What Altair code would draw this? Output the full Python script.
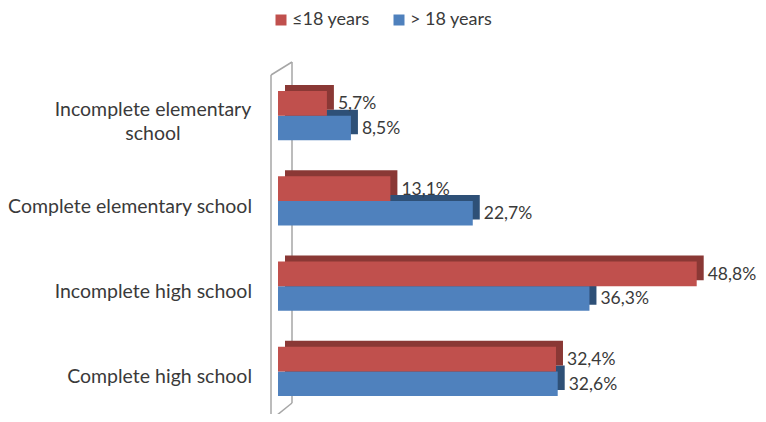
import altair as alt
import pandas as pd

categories = ["Incomplete elementary school", "Complete elementary school",
              "Incomplete high school", "Complete high school"]
series = ["≤18 years", "> 18 years"]
under18 = [5.7, 13.1, 48.8, 32.4]
over18 = [8.5, 22.7, 36.3, 32.6]
front_colors = ["#C0504D", "#4F81BD"]
dark_colors = ["#8A3835", "#2E5077"]

def table(vals, s):
    return pd.DataFrame({
        "category": categories,
        "series": [s] * len(categories),
        "value": vals,
        "label": [f"{v:.1f}".replace(".", ",") + "%" for v in vals],
    })

df_u = table(under18, series[0])
df_o = table(over18, series[1])

cat_rows = []
for c in categories:
    if c == "Incomplete elementary school":
        cat_rows.append({"category": c, "lines": ["Incomplete elementary", "school"], "wrap": 1})
    else:
        cat_rows.append({"category": c, "lines": [c], "wrap": 0})
cat_df = alt.Data(values=cat_rows)

W, H = 429, 341
BAR = 24.7
DX, DY = 7, 6
FONT = "Lato"
TXT = "#3A3A3A"

yscale = alt.Scale(domain=categories, paddingInner=0, paddingOuter=0)
yenc = alt.Y("category:N", scale=yscale, axis=None)
xscale = alt.Scale(domain=[0, 50])
xenc = alt.X("value:Q", scale=xscale, axis=None)

one = pd.DataFrame({"a": [0]})
wall_color = "#A6A6A6"
wall = alt.layer(
    alt.Chart(one).mark_rule(color=wall_color, strokeWidth=1.5).encode(
        x=alt.value(-7), y=alt.value(2), y2=alt.value(H)),
    alt.Chart(one).mark_rule(color=wall_color, strokeWidth=1.5).encode(
        x=alt.value(14), y=alt.value(-11), y2=alt.value(330)),
    alt.Chart(one).mark_rule(color=wall_color, strokeWidth=1.5).encode(
        x=alt.value(-7), x2=alt.value(14), y=alt.value(2), y2=alt.value(-11)),
    alt.Chart(one).mark_rule(color=wall_color, strokeWidth=1.5).encode(
        x=alt.value(14), x2=alt.value(-7), y=alt.value(330), y2=alt.value(347)),
)

def bars(d, off, dark):
    back = alt.Chart(d).mark_bar(height=BAR, yOffset=off - DY, xOffset=DX, x2Offset=DX,
                                 color=dark).encode(x=xenc, y=yenc)
    front = alt.Chart(d).mark_bar(height=BAR, yOffset=off).encode(
        x=xenc, y=yenc,
        color=alt.Color("series:N", scale=alt.Scale(domain=series, range=front_colors),
                        legend=alt.Legend(title=None, orient="none", direction="horizontal",
                                          legendX=-6, legendY=-62, symbolType="square",
                                          symbolSize=121, symbolStrokeWidth=0,
                                          labelFont=FONT, labelFontSize=18, labelColor=TXT,
                                          labelOffset=2, columnPadding=20)))
    txt = alt.Chart(d).mark_text(align="left", baseline="middle", dx=11, yOffset=off + 1,
                                 font=FONT, fontSize=17.5, color=TXT).encode(
        x=alt.X("value:Q", scale=xscale), y=yenc, text="label:N")
    return back, front, txt

bu, fu, tu = bars(df_u, -BAR / 2, dark_colors[0])
bo, fo, to = bars(df_o, BAR / 2, dark_colors[1])

cat_single = alt.Chart(cat_df).transform_filter("datum.wrap == 0").mark_text(
    align="right", baseline="middle", dy=6, font=FONT, fontSize=19.5, color=TXT).encode(
    x=alt.value(-26), y=yenc, text="lines:N")

cat_wrap = alt.Chart(cat_df).transform_filter("datum.wrap == 1").mark_text(
    align="center", baseline="middle", dy=-6, lineHeight=24, font=FONT, fontSize=19.5, color=TXT).encode(
    x=alt.value(-125), y=yenc, text="lines:N")

chart = alt.layer(wall, bo, fo, bu, fu, tu, to, cat_single, cat_wrap).properties(
    width=W, height=H,
    autosize=alt.AutoSizeParams(type="none"),
    padding={"left": 270, "top": 65, "right": 51, "bottom": 0},
).configure_view(stroke=None)

chart.save("out.html", embed_options={"renderer": "svg", "actions": False})
